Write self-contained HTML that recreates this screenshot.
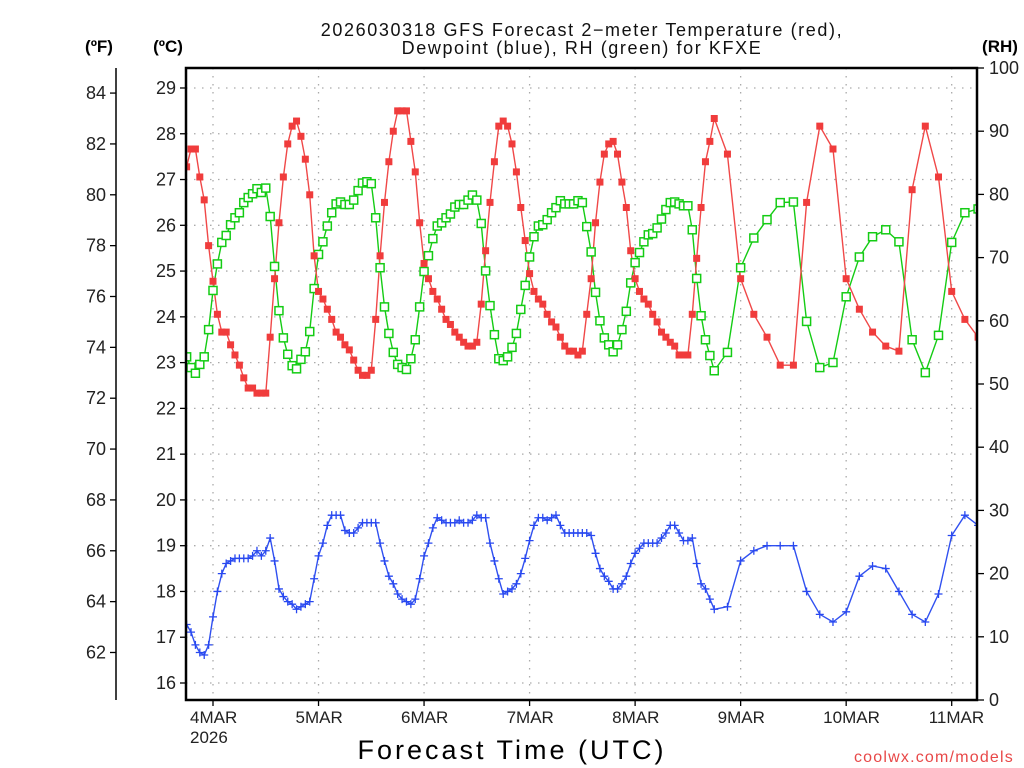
<!DOCTYPE html>
<html><head><meta charset="utf-8">
<style>
html,body{margin:0;padding:0;background:#fff;}
svg{display:block;font-family:"Liberation Sans",sans-serif;}
</style></head>
<body>
<svg id="chart" width="1024" height="768" viewBox="0 0 1024 768" xmlns="http://www.w3.org/2000/svg">
<defs><clipPath id="plotclip"><rect x="186" y="68" width="791" height="632"/></clipPath></defs>
<text x="582" y="36" font-size="18" text-anchor="middle" fill="#111" letter-spacing="1.6">2026030318 GFS Forecast 2−meter Temperature (red),</text>
<text x="582" y="54" font-size="18" text-anchor="middle" fill="#111" letter-spacing="1.6">Dewpoint (blue), RH (green) for KFXE</text>
<text x="99" y="52" font-size="17" font-weight="bold" text-anchor="middle">(ºF)</text>
<text x="168" y="52" font-size="17" font-weight="bold" text-anchor="middle">(ºC)</text>
<text x="1000" y="52" font-size="17" font-weight="bold" text-anchor="middle">(RH)</text>
<g id="grid"></g>
<g id="axes"></g>
<g id="series" clip-path="url(#plotclip)"></g>
<rect x="186" y="68" width="791" height="632" fill="none" stroke="#000" stroke-width="2.5"/>
<text x="512" y="759" font-size="27" text-anchor="middle" fill="#000" letter-spacing="3">Forecast Time (UTC)</text>
<text x="1014" y="762" font-size="16" text-anchor="end" fill="#e84848" letter-spacing="1.2">coolwx.com/models</text>
</svg>
<script>
// hourly data from 4MAR 00Z offset -6h .. 114h, then 3-hourly 117..174
const hourlyStart = -6;
const tempF = [81.1,81.8,81.8,80.7,79.8,78.0,76.6,75.3,74.6,74.6,74.1,73.7,73.3,72.8,72.4,72.4,72.2,72.2,72.2,74.4,76.7,78.9,80.7,82.0,82.7,82.9,82.3,81.4,80.0,77.6,76.2,75.9,75.5,75.1,74.6,74.4,74.1,73.9,73.5,73.1,72.9,72.9,73.1,75.1,77.6,79.7,81.3,82.5,83.3,83.3,83.3,82.1,80.9,78.9,77.3,76.7,76.2,75.9,75.5,75.1,74.9,74.6,74.4,74.2,74.05,74.05,74.2,75.7,77.8,79.7,81.3,82.7,82.9,82.7,82.0,80.9,79.5,78.2,76.9,76.2,75.9,75.7,75.3,75.0,74.8,74.4,74.05,73.85,73.85,73.7,73.85,75.3,76.7,78.9,80.5,81.6,82.0,82.1,81.6,80.5,79.5,77.8,76.7,76.2,75.9,75.7,75.3,75.0,74.6,74.4,74.2,74.05,73.7,73.7,73.7,75.3,77.5,79.5,81.3,82.1,83.0];
const dewF = [63.1,62.8,62.3,62.0,61.9,62.3,63.4,64.4,65.1,65.5,65.6,65.7,65.7,65.7,65.7,65.8,66.0,65.8,66.0,66.5,65.6,64.5,64.2,64.0,63.9,63.7,63.8,63.9,64.0,64.9,65.8,66.3,67.0,67.4,67.4,67.4,66.8,66.7,66.7,66.9,67.1,67.1,67.1,67.1,66.3,65.6,65.0,64.7,64.3,64.1,64.0,63.9,64.1,64.9,65.8,66.3,66.9,67.3,67.2,67.1,67.1,67.1,67.2,67.1,67.1,67.2,67.4,67.3,67.3,66.3,65.6,64.9,64.3,64.4,64.5,64.7,65.1,65.7,66.4,67.0,67.3,67.3,67.2,67.3,67.4,67.0,66.7,66.7,66.7,66.7,66.7,66.7,66.6,65.9,65.3,65.0,64.8,64.5,64.5,64.7,65.0,65.5,65.9,66.1,66.3,66.3,66.3,66.3,66.5,66.7,67.0,67.0,66.7,66.4,66.4,66.5,65.5,64.7,64.5,64.1,63.7];
const rhPct = [54.3,52.6,51.7,53.1,54.3,58.6,64.8,69.0,72.4,73.5,75.2,76.3,77.1,78.7,79.5,80.1,80.9,80.3,81.0,76.5,68.6,61.6,57.3,54.7,52.9,52.4,53.9,55.1,58.3,65.1,70.5,72.5,75.0,77.1,78.5,78.8,78.4,78.4,79.1,80.6,81.8,82.0,81.7,76.3,68.4,62.2,58.0,55.0,53.1,52.6,52.3,54.0,57.0,62.2,67.8,70.3,73.0,75.0,75.5,76.3,76.9,78.0,78.4,78.4,79.1,79.9,79.1,75.4,67.9,62.4,57.8,54.0,53.7,54.3,55.8,58.0,61.8,65.6,70.1,73.3,75.0,75.2,76.0,77.1,77.9,79.0,78.5,78.5,78.5,79.0,78.7,74.9,70.9,64.5,60.0,57.3,56.2,55.1,56.2,58.6,61.5,66.0,69.2,70.8,72.5,73.6,73.8,74.7,76.1,77.6,78.7,78.8,78.5,78.2,78.2,74.4,66.7,60.8,57.0,54.5,52.1];
const coarseHours = [117,120,123,126,129,132,135,138,141,144,147,150,153,156,159,162,165,168,171,174];
const tempFCoarse = [81.6,76.7,75.3,74.4,73.3,73.3,79.7,82.7,81.8,76.7,75.5,74.6,74.05,73.85,80.2,82.7,80.7,76.2,75.1,74.4];
const dewFCoarse = [63.8,65.6,66.0,66.2,66.2,66.2,64.4,63.5,63.2,63.6,65.0,65.4,65.3,64.4,63.5,63.2,64.3,66.6,67.4,67.0];
const rhCoarse = [55.0,68.4,73.1,76.0,78.7,78.8,59.9,52.6,53.4,63.8,70.1,73.3,74.4,72.5,57.0,51.8,57.7,72.4,77.1,77.7];
const celsiusTicks = [16,17,18,19,20,21,22,23,24,25,26,27,28,29];
const fahrenheitTicks = [62,64,66,68,70,72,74,76,78,80,82,84];
const rhTicks = [0,10,20,30,40,50,60,70,80,90,100];
const dayLabels = ["4MAR","5MAR","6MAR","7MAR","8MAR","9MAR","10MAR","11MAR"];

const NS="http://www.w3.org/2000/svg";
const L=186,R=977,T=68,B=700;
function xH(h){return 213+h*4.397;}
function yC(c){return 683-(c-16)*45.77;}
function yF(f){return yC((f-32)/1.8);}
function yRH(r){return B-r*(B-T)/100;}
function mk(tag,attrs,parent){const e=document.createElementNS(NS,tag);for(const k in attrs)e.setAttribute(k,attrs[k]);parent.appendChild(e);return e;}

const grid=document.getElementById('grid'),axes=document.getElementById('axes'),series=document.getElementById('series');
celsiusTicks.forEach(c=>{const y=yC(c);
  const g=mk('line',{x1:L,x2:R,y1:y,y2:y,stroke:'#aaa','stroke-width':1.3,'stroke-dasharray':'1.5 6.5'},grid);
  
  
  const t=mk('line',{x1:L-6,x2:L,y1:y,y2:y,stroke:'#000','stroke-width':1.3},axes);
  
  
  const lb=mk('text',{x:L-10,y:y+6,'font-size':18,'text-anchor':'end',fill:'#222'},axes);lb.textContent=c;
  
  
});
const fl=mk('line',{x1:116,x2:116,y1:T,y2:B,stroke:'#000','stroke-width':1.5},axes);


fahrenheitTicks.forEach(f=>{const y=yF(f);
  const t=mk('line',{x1:110,x2:116,y1:y,y2:y,stroke:'#000','stroke-width':1.3},axes);
  
  
  const lb=mk('text',{x:106,y:y+6,'font-size':18,'text-anchor':'end',fill:'#222'},axes);lb.textContent=f;
  
  
});
rhTicks.forEach(r=>{const y=yRH(r);
  const t=mk('line',{x1:R,x2:R+7,y1:y,y2:y,stroke:'#000','stroke-width':1.3},axes);
  
  
  const lb=mk('text',{x:989,y:y+6,'font-size':18,'text-anchor':'start',fill:'#222'},axes);lb.textContent=r;
  
  
});
dayLabels.forEach((d,i)=>{const x=xH(i*24);
  const g=mk('line',{x1:x,x2:x,y1:T,y2:B,stroke:'#aaa','stroke-width':1.3,'stroke-dasharray':'1.5 6.5'},grid);
  
  
  const t=mk('line',{x1:x,x2:x,y1:B,y2:B+6,stroke:'#000','stroke-width':1.3},axes);
  
  
  const lb=mk('text',{x:x-23,y:723,'font-size':17,fill:'#222'},axes);lb.textContent=d;
  
  
});
const yr=mk('text',{x:xH(0)-23,y:743,'font-size':17,fill:'#222'},axes);yr.textContent='2026';



function build(hv,cv){const pts=[];hv.forEach((v,i)=>pts.push([hourlyStart+i,v]));cv.forEach((v,i)=>pts.push([coarseHours[i],v]));return pts;}
function drawLine(pts,yf,color,name){
  const p=mk('polyline',{points:pts.map(q=>xH(q[0]).toFixed(1)+','+yf(q[1]).toFixed(1)).join(' '),fill:'none',stroke:color,'stroke-width':1.4},series);
  
  
}
const rhPts=build(rhPct,rhCoarse), tPts=build(tempF,tempFCoarse), dPts=build(dewF,dewFCoarse);
drawLine(rhPts,yRH,'#14cc14','rh-line');
drawLine(tPts,yF,'#f04848','temperature-line');
drawLine(dPts,yF,'#3050f0','dewpoint-line');
rhPts.forEach(q=>{const x=xH(q[0]),y=yRH(q[1]);
  const m=mk('rect',{x:x-4,y:y-4,width:8,height:8,fill:'#fff',stroke:'#14cc14','stroke-width':1.5},series);
  
  
});
tPts.forEach(q=>{const x=xH(q[0]),y=yF(q[1]);
  const m=mk('rect',{x:x-3.5,y:y-3.5,width:7,height:7,fill:'#f03c3c'},series);
  
  
});
dPts.forEach(q=>{const x=xH(q[0]),y=yF(q[1]);
  const m=mk('path',{d:`M${x-4},${y}H${x+4}M${x},${y-4}V${y+4}`,stroke:'#2848f0','stroke-width':1.3,fill:'none'},series);
  
  
});
</script>
</body></html>
